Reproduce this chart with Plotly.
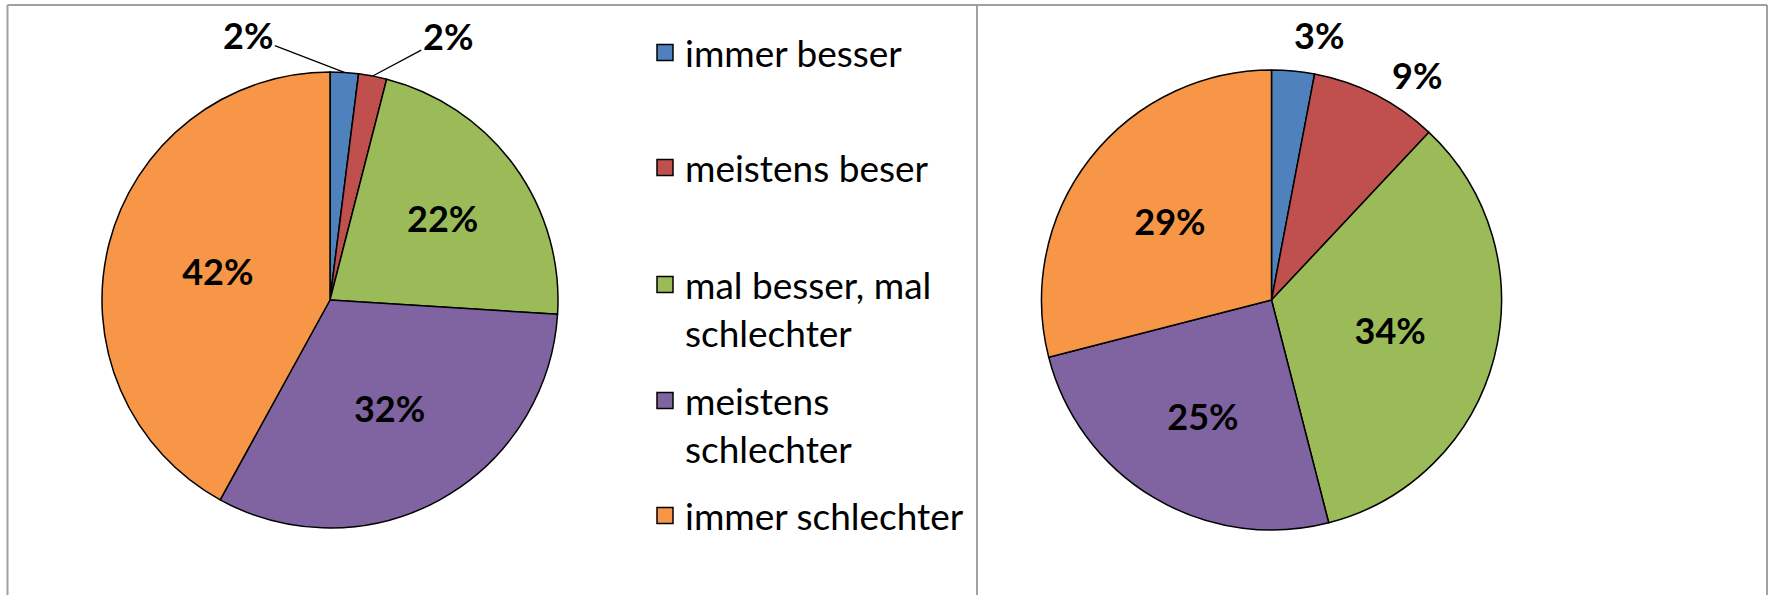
import math
import plotly.graph_objects as go

# ---- data ----
categories = ["immer besser", "meistens beser", "mal besser, mal schlechter",
              "meistens schlechter", "immer schlechter"]
legend_labels = ["immer besser", "meistens beser", "mal besser, mal<br>schlechter",
                 "meistens<br>schlechter", "immer schlechter"]
values_left = [2, 2, 22, 32, 42]
values_right = [3, 9, 34, 25, 29]

colors = ["#4F81BD", "#C0504D", "#9BBB59", "#8064A2", "#F79646"]

# ---- layout constants ----
W, H = 1774, 595
FONT = "Lato"
LEFT_PIE = dict(cx=330, cy=300, r=228)
RIGHT_PIE = dict(cx=1271.5, cy=300, r=230)
# slices whose label sits outside the pie: pixel offset of the label centre
# from the slice's outer edge
OUTSIDE_LEFT = {0: (-96, -37), 1: (75, -40)}
OUTSIDE_RIGHT = {0: (26, -36), 1: (41, -20)}


def xdom(cx, r):
    return [(cx - r) / W, (cx + r) / W]


def ydom(cy, r):
    return [(H - cy - r) / H, (H - cy + r) / H]


lbl_font = dict(family=FONT, size=36, color="black", weight="bold")


def add_pie(fig, values, geo, outside, leader):
    textpos = ["none" if i in outside else "inside" for i in range(len(values))]
    fig.add_trace(go.Pie(
        labels=categories, values=values,
        sort=False, direction="clockwise", rotation=0,
        marker=dict(colors=colors, line=dict(color="black", width=1.5)),
        texttemplate="%{percent:.0%}", textposition=textpos,
        insidetextorientation="horizontal",
        textfont=lbl_font, insidetextfont=lbl_font,
        showlegend=False, hoverinfo="label+percent",
        domain=dict(x=xdom(geo["cx"], geo["r"]), y=ydom(geo["cy"], geo["r"])),
    ))
    total = float(sum(values))
    cum = 0.0
    for i, v in enumerate(values):
        mid = (cum + v / 2.0) / total * 2 * math.pi
        cum += v
        if i not in outside:
            continue
        ex = geo["cx"] + geo["r"] * math.sin(mid)
        ey = geo["cy"] - geo["r"] * math.cos(mid)
        ox, oy = outside[i]
        txt = f"{round(v / total * 100):d}%"
        if leader:
            fig.add_annotation(x=ex / W, y=1 - ey / H, xref="paper", yref="paper",
                               text=txt, font=lbl_font, showarrow=True,
                               ax=ox, ay=oy, arrowhead=0, arrowwidth=1.3,
                               arrowcolor="black", standoff=0)
        else:
            fig.add_annotation(x=ex / W, y=1 - ey / H, xref="paper", yref="paper",
                               text=txt, font=lbl_font, showarrow=False,
                               xanchor="center", yanchor="middle",
                               xshift=ox, yshift=-oy)


fig = go.Figure()
add_pie(fig, values_left, LEFT_PIE, OUTSIDE_LEFT, leader=True)
add_pie(fig, values_right, RIGHT_PIE, OUTSIDE_RIGHT, leader=False)

# legend entries (one legend per entry to mimic the spacing of the original)
legend_centers = [52, 167, 284, 400, 515]
legend_names = ["legend", "legend2", "legend3", "legend4", "legend5"]
for i, (lab, col) in enumerate(zip(legend_labels, colors)):
    fig.add_trace(go.Scatter(
        x=[None], y=[None], mode="markers", name=lab,
        marker=dict(symbol="square", size=16, color=col,
                    line=dict(color="black", width=1.5)),
        legend=legend_names[i], showlegend=True, hoverinfo="skip"))

layout_legends = {}
for i, name in enumerate(legend_names):
    layout_legends[name] = dict(
        x=645 / W, xanchor="left",
        y=1 - (legend_centers[i] - 30) / H, yanchor="top",
        valign="top", itemsizing="trace",
        bgcolor="rgba(0,0,0,0)", borderwidth=0,
        font=dict(family=FONT, size=37, color="black"),
    )

frame = dict(color="#A0A0A0", width=2)
top_y = 1 - 5 / H
fig.update_layout(
    width=W, height=H,
    margin=dict(l=0, r=0, t=0, b=0, autoexpand=False),
    paper_bgcolor="white", plot_bgcolor="white",
    xaxis=dict(visible=False), yaxis=dict(visible=False),
    font=dict(family=FONT, color="black"),
    **layout_legends,
    shapes=[
        dict(type="line", xref="paper", yref="paper",
             x0=7.5 / W, x1=1767 / W, y0=top_y, y1=top_y, line=frame),
        dict(type="line", xref="paper", yref="paper",
             x0=7.5 / W, x1=7.5 / W, y0=-0.02, y1=top_y, line=frame),
        dict(type="line", xref="paper", yref="paper",
             x0=1767 / W, x1=1767 / W, y0=-0.02, y1=top_y, line=frame),
        dict(type="line", xref="paper", yref="paper",
             x0=977 / W, x1=977 / W, y0=-0.02, y1=top_y, line=frame),
    ],
)

fig.write_html("out.html",
               config={"displayModeBar": False},
               post_script="document.body.style.margin='0';"
                           "document.body.style.overflow='hidden';")
